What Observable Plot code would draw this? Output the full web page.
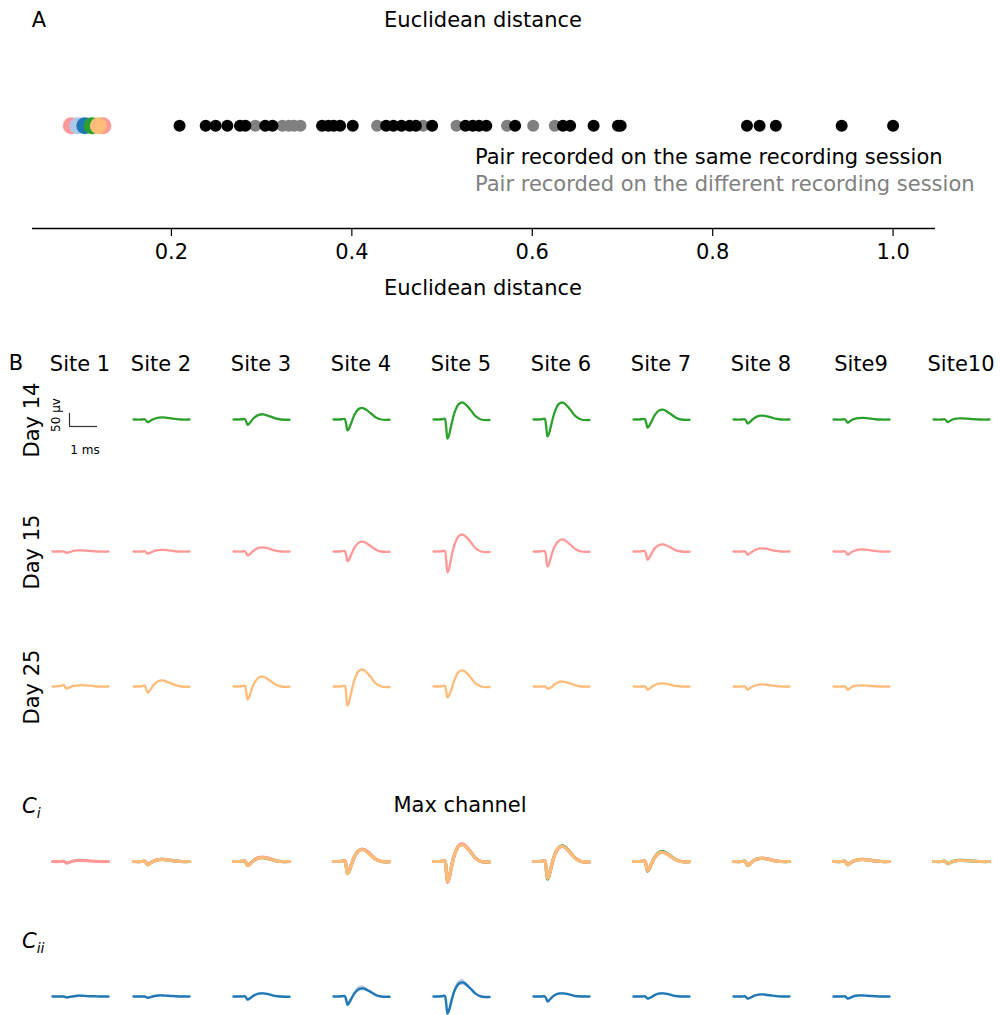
<!DOCTYPE html>
<html>
<head>
<meta charset="utf-8">
<script src="https://cdn.jsdelivr.net/npm/d3@7"></script>
<script src="https://cdn.jsdelivr.net/npm/@observablehq/plot@0.6"></script>
<style>
  body { margin: 0; background: #fff; }
  #page { position: relative; width: 1000px; height: 1015px; overflow: hidden; background: #fff;
          font-family: "DejaVu Sans", sans-serif; color: #000; }
  #page svg { position: absolute; overflow: visible; }
  .lbl { position: absolute; white-space: nowrap; line-height: 1; }
</style>
</head>
<body>
<div id="page"></div>
<script>
// ---- Panel A: pairwise Euclidean distances ----
const sameSession = [0.209, 0.238, 0.249, 0.262, 0.276, 0.282, 0.304, 0.312, 0.367, 0.374, 0.380, 0.387,
  0.401, 0.438, 0.446, 0.455, 0.464, 0.471, 0.489, 0.526, 0.534, 0.541, 0.549, 0.581, 0.634, 0.642,
  0.668, 0.695, 0.698, 0.838, 0.852, 0.870, 0.943, 1.000];
const differentSession = [0.293, 0.323, 0.330, 0.336, 0.343, 0.428, 0.479, 0.516, 0.572, 0.601, 0.625];
const trackedDistances = [0.089, 0.124, 0.096, 0.104, 0.112, 0.119];
const distanceTicks = [0.2, 0.4, 0.6, 0.8, 1.0];

// ---- Panel B/C: mean waveforms (µV) sampled on a common time grid (ms) ----
const timeMs = [0, 0.3, 0.4, 0.45, 0.5, 0.55, 0.65, 0.75, 0.9, 1.05, 1.2, 1.35, 1.5, 1.7, 2.0];
const sites = ["Site 1", "Site 2", "Site 3", "Site 4", "Site 5", "Site 6", "Site 7", "Site 8", "Site9", "Site10"];

const day14 = [
  null,
  [0, 0, 1, -4, -10, -9, -2, 3, 7, 8, 6, 4, 2, 0, 0],
  [0, 1, 2, -7, -20, -17, -4, 8, 18, 20, 16, 10, 4, 0, -1],
  [0, 1, 2, -15, -42, -36, -8, 18, 40, 44, 35, 22, 9, 0, -1],
  [0, 1, 3, -26, -73, -62, -15, 26, 59, 65, 52, 33, 13, 0, -2],
  [0, 1, 3, -23, -65, -55, -13, 26, 59, 65, 52, 33, 13, 0, -2],
  [0, 1, 2, -11, -31, -26, -6, 15, 34, 38, 30, 19, 8, 0, -1],
  [0, 0, 1, -5, -15, -13, -3, 6, 14, 15, 12, 8, 3, 0, 0],
  [0, 0, 1, -4, -12, -10, -2, 2, 5, 6, 5, 3, 1, 0, 0],
  [0, 0, 1, -4, -10, -8, -2, 2, 4, 4, 3, 2, 1, 0, 0]
];
const day15 = [
  [0, 0, 0, -2, -5, -4, -1, 2, 4, 4, 3, 2, 1, 0, 0],
  [0, 0, 1, -3, -8, -7, -2, 2, 5, 6, 5, 3, 1, 0, 0],
  [0, 0, 1, -5, -15, -13, -3, 6, 14, 16, 13, 8, 3, 0, 0],
  [0, 1, 2, -13, -38, -32, -8, 15, 34, 38, 30, 19, 8, 0, -1],
  [0, 1, 3, -28, -80, -68, -16, 26, 59, 65, 52, 33, 13, 0, -2],
  [0, 1, 2, -20, -58, -49, -12, 18, 41, 46, 37, 23, 9, 0, -1],
  [0, 1, 2, -11, -31, -26, -6, 11, 24, 27, 22, 14, 5, 0, -1],
  [0, 0, 1, -4, -12, -10, -2, 5, 11, 12, 10, 6, 2, 0, 0],
  [0, 0, 1, -4, -12, -10, -2, 3, 7, 8, 6, 4, 2, 0, 0],
  null
];
const day25 = [
  [0, 2, 6, -2, -8, -6, -2, 2, 4, 5, 4, 3, 1, 0, 0],
  [0, 1, 4, -8, -23, -20, -5, 9, 21, 23, 18, 12, 5, 0, -1],
  [0, 1, 3, -18, -50, -43, -10, 15, 34, 38, 30, 19, 8, 0, -1],
  [0, 1, 3, -26, -73, -62, -15, 26, 59, 65, 52, 33, 13, 0, -2],
  [0, 1, 3, -15, -42, -36, -8, 25, 56, 62, 50, 31, 12, 0, -2],
  [0, 0, 1, -3, -8, -7, -2, 8, 17, 19, 15, 10, 4, 0, 0],
  [0, 0, 1, -4, -12, -10, -2, 5, 11, 12, 10, 6, 2, 0, 0],
  [0, 0, 1, -4, -12, -10, -2, 3, 7, 8, 6, 4, 2, 0, 0],
  [0, 0, 1, -4, -12, -10, -2, 2, 4, 4, 3, 2, 1, 0, 0],
  null
];

// Max-channel waveforms of the tracked unit, one series per recording day
const ciGreen = [
  null,
  [0, 0, 1, -4, -12, -10, -2, 3, 7, 8, 6, 4, 2, 0, 0],
  [0, 1, 2, -5, -15, -13, -3, 6, 14, 15, 12, 8, 3, 0, 0],
  [0, 1, 3, -16, -46, -39, -9, 18, 41, 46, 37, 23, 9, 0, -1],
  [0, 1, 3, -27, -77, -65, -15, 26, 59, 65, 52, 33, 13, 0, -2],
  [0, 1, 3, -24, -68, -58, -14, 24, 53, 60, 48, 30, 12, 0, -2],
  [0, 1, 2, -13, -37, -31, -7, 15, 34, 38, 30, 19, 8, 0, -1],
  [0, 0, 1, -5, -15, -13, -3, 5, 11, 12, 10, 6, 2, 0, 0],
  [0, 0, 1, -4, -12, -10, -2, 3, 7, 8, 6, 4, 2, 0, 0],
  [0, 0, 1, -3, -8, -7, -2, 2, 4, 4, 3, 2, 1, 0, 0]
];
const ciSalmon = [
  [0, 0, 1, -2, -6, -5, -1, 2, 4, 4, 3, 2, 1, 0, 0],
  [0, 0, 1, -4, -11, -10, -2, 3, 7, 8, 7, 4, 2, 0, 0],
  [0, 1, 2, -5, -14, -12, -3, 7, 15, 17, 14, 9, 4, 0, 0],
  [0, 1, 3, -15, -44, -38, -9, 19, 42, 47, 39, 25, 10, 1, -1],
  [0, 1, 3, -28, -80, -68, -16, 27, 61, 68, 54, 34, 13, 0, -2],
  [0, 1, 3, -22, -63, -54, -13, 23, 52, 58, 46, 29, 12, 0, -2],
  [0, 1, 2, -12, -34, -29, -7, 13, 31, 35, 28, 17, 7, 0, -1],
  [0, 0, 1, -5, -14, -12, -3, 5, 11, 13, 10, 6, 3, 0, 0],
  [0, 0, 1, -4, -11, -10, -2, 3, 7, 8, 6, 4, 2, 0, 0],
  null
];
const ciOrange = [
  null,
  [0, 0, 1, -5, -13, -11, -3, 3, 7, 8, 6, 4, 2, 0, 0],
  [0, 1, 2, -6, -16, -14, -4, 6, 13, 15, 12, 7, 3, 0, 0],
  [0, 1, 3, -17, -48, -41, -10, 18, 41, 45, 36, 22, 9, 0, -1],
  [0, 1, 3, -27, -76, -64, -15, 25, 57, 63, 50, 32, 12, 0, -2],
  [0, 1, 3, -23, -65, -55, -13, 23, 52, 57, 46, 29, 11, 0, -2],
  [0, 1, 2, -12, -35, -30, -7, 14, 32, 35, 28, 18, 7, 0, -1],
  [0, 0, 1, -5, -15, -13, -3, 5, 10, 12, 9, 6, 2, 0, 0],
  [0, 0, 1, -4, -12, -10, -2, 3, 7, 7, 6, 4, 2, 0, 0],
  [0, 0, 1, -3, -9, -7, -2, 2, 4, 4, 3, 2, 1, 0, 0]
];

// Second unit: mean and standard deviation on the max channel
const ciiMean = [
  [0, 0, 0, -1, -4, -3, -1, 1, 3, 3, 2, 1, 1, 0, 0],
  [0, 0, 0, -2, -5, -4, -1, 2, 4, 4, 3, 2, 1, 0, 0],
  [0, 0, 1, -4, -12, -10, -2, 5, 11, 12, 10, 6, 2, 0, -1],
  [0, 1, 2, -11, -31, -26, -6, 12, 28, 31, 25, 16, 6, 0, -1],
  [0, 1, 3, -23, -65, -55, -13, 22, 49, 54, 43, 27, 11, 0, -2],
  [0, 0, 1, -7, -19, -16, -4, 5, 11, 12, 10, 6, 2, 0, 0],
  [0, 0, 1, -3, -8, -7, -2, 5, 11, 12, 10, 6, 2, 0, 0],
  [0, 0, 1, -3, -8, -7, -2, 3, 7, 8, 6, 4, 2, 0, 0],
  [0, 0, 1, -3, -8, -7, -2, 2, 4, 4, 3, 2, 1, 0, 0],
  null
];
const ciiSd = [
  [1, 1, 1, 1, 2, 2, 1, 1, 2, 2, 1, 1, 1, 1, 1],
  [1, 1, 1, 1, 2, 2, 1, 1, 2, 2, 1, 1, 1, 1, 1],
  [1, 1, 1, 2, 3, 3, 2, 2, 3, 3, 2, 2, 1, 1, 1],
  [1, 1, 2, 5, 10, 9, 5, 6, 9, 9, 7, 5, 3, 2, 1],
  [1, 1, 2, 6, 11, 10, 6, 7, 10, 11, 8, 6, 3, 2, 1],
  [1, 1, 1, 2, 4, 4, 2, 2, 3, 3, 2, 2, 1, 1, 1],
  [1, 1, 1, 2, 3, 3, 2, 2, 3, 3, 2, 2, 1, 1, 1],
  [1, 1, 1, 1, 2, 2, 1, 1, 2, 2, 2, 1, 1, 1, 1],
  [1, 1, 1, 1, 2, 2, 1, 1, 2, 2, 1, 1, 1, 1, 1],
  null
];

// ---- styling / layout ----
const C = {green: "#2ca02c", salmon: "#ff9896", orange: "#ffbb78", blue: "#1f77b4", lightblue: "#aec7e8"};
const trackedColors = [C.salmon, C.salmon, C.lightblue, C.blue, C.green, C.orange];
const FONT = "DejaVu Sans";
const FS = 21;
const page = document.getElementById("page");

function label(html, x, y, opts = {}) {
  const el = document.createElement("div");
  el.className = "lbl";
  el.innerHTML = html;
  el.style.fontSize = (opts.size || FS) + "px";
  if (opts.color) el.style.color = opts.color;
  if (opts.italic) el.style.fontStyle = "italic";
  el.style.left = x + "px";
  el.style.top = y + "px";
  const ax = opts.anchor === "start" ? "0%" : "-50%";
  el.style.transform = `translate(${ax}, -50%)` + (opts.rotate ? ` rotate(${opts.rotate}deg)` : "");
  el.style.transformOrigin = opts.anchor === "start" ? "0 50%" : "50% 50%";
  page.appendChild(el);
}

function place(svg, left, top) {
  svg.style.left = left + "px";
  svg.style.top = top + "px";
  page.appendChild(svg);
}

// Panel A
const plotA = Plot.plot({
  width: 1000, height: 310,
  marginLeft: 32, marginRight: 65, marginTop: 0, marginBottom: 82,
  style: {fontFamily: FONT, fontSize: FS + "px", color: "#000", background: "transparent"},
  x: {domain: [0.046, 1.047]},
  y: {domain: [-0.82, 1], axis: null},
  marks: [
    Plot.ruleY([-0.82], {stroke: "#000", strokeWidth: 1.6}),
    Plot.axisX({ticks: distanceTicks, tickSize: 8, tickPadding: 8, tickFormat: d3.format(".1f"),
                label: null, stroke: "#000", strokeWidth: 1.2, fontSize: FS}),
    Plot.dot(differentSession, {x: d => d, y: 0, r: 6, fill: "#808080"}),
    Plot.dot(sameSession, {x: d => d, y: 0, r: 6, fill: "#000"}),
    Plot.dot(trackedDistances, {x: d => d, y: 0, r: 8.5, fill: (d, i) => trackedColors[i]})
  ]
});
place(plotA, 0, 0);

label("A", 39, 20);
label("Euclidean distance", 483, 20);
label("Pair recorded on the same recording session", 475, 157, {anchor: "start"});
label("Pair recorded on the different recording session", 475, 184, {anchor: "start", color: "#808080"});
label("Euclidean distance", 483, 288);

// Panel B/C waveform cells
const colStart = [52, 133, 233, 333, 433, 533, 633, 733, 833, 933];
const CELL = {w: 64, h: 60, pad: 4};

function series(values, sd) {
  return timeMs.map((t, i) => ({t, v: values[i], sd: sd ? sd[i] : 0}));
}

function cell(lines, band, col, baseline) {
  const marks = [];
  if (band) {
    marks.push(Plot.areaY(series(band.values, band.sd), {
      x: "t", y1: d => d.v - d.sd, y2: d => d.v + d.sd,
      fill: C.lightblue, fillOpacity: 0.9, curve: "catmull-rom"
    }));
  }
  for (const l of lines) {
    marks.push(Plot.line(series(l.values), {
      x: "t", y: "v", stroke: l.color, strokeWidth: l.width || 2.3, curve: "catmull-rom"
    }));
  }
  const svg = Plot.plot({
    width: CELL.w, height: CELL.h,
    marginLeft: CELL.pad, marginRight: CELL.pad, marginTop: 0, marginBottom: 0,
    style: {background: "transparent"},
    x: {domain: [0, 2], axis: null},
    y: {domain: [-115, 115], axis: null},
    marks
  });
  place(svg, colStart[col] - CELL.pad, baseline - CELL.h / 2);
}

const rows = [
  {data: day14, color: C.green, base: 419, name: "Day 14"},
  {data: day15, color: C.salmon, base: 551, name: "Day 15"},
  {data: day25, color: C.orange, base: 686, name: "Day 25"}
];
rows.forEach(r => {
  r.data.forEach((v, i) => { if (v) cell([{values: v, color: r.color}], null, i, r.base); });
  label(r.name, 32, r.base + 1, {rotate: -90});
});

sites.forEach((s, i) => label(s, colStart[i] + 28, 364));
label("B", 16, 363);

// Scale bar: 50 µV by 1 ms
const scaleBar = Plot.plot({
  width: CELL.w, height: CELL.h,
  marginLeft: CELL.pad, marginRight: CELL.pad, marginTop: 0, marginBottom: 0,
  style: {background: "transparent"},
  x: {domain: [0, 2], axis: null},
  y: {domain: [-115, 115], axis: null},
  marks: [
    Plot.ruleX([0], {y1: 0, y2: 50, stroke: "#333", strokeWidth: 1.2}),
    Plot.ruleY([0], {x1: 0, x2: 1, stroke: "#333", strokeWidth: 1.2})
  ]
});
place(scaleBar, 69 - CELL.pad, 426 - CELL.h / 2);
label("50 μv", 56, 415, {size: 12, rotate: -90});
label("1 ms", 85, 450, {size: 12});

// Panel C
const ciBase = 861, ciiBase = 996;
sites.forEach((s, i) => {
  const lines = [];
  if (ciGreen[i]) lines.push({values: ciGreen[i], color: C.green, width: 3.2});
  if (ciSalmon[i]) lines.push({values: ciSalmon[i], color: C.salmon, width: 3.2});
  if (ciOrange[i]) lines.push({values: ciOrange[i], color: C.orange, width: 3});
  if (lines.length) cell(lines, null, i, ciBase);
  if (ciiMean[i]) cell([{values: ciiMean[i], color: C.blue, width: 2.4}], {values: ciiMean[i], sd: ciiSd[i]}, i, ciiBase);
});
label("Max channel", 460, 805);
label("C<sub style='font-size:14px'>i</sub>", 22, 808, {anchor: "start", italic: true});
label("C<sub style='font-size:14px'>ii</sub>", 22, 943, {anchor: "start", italic: true});
</script>
</body>
</html>
